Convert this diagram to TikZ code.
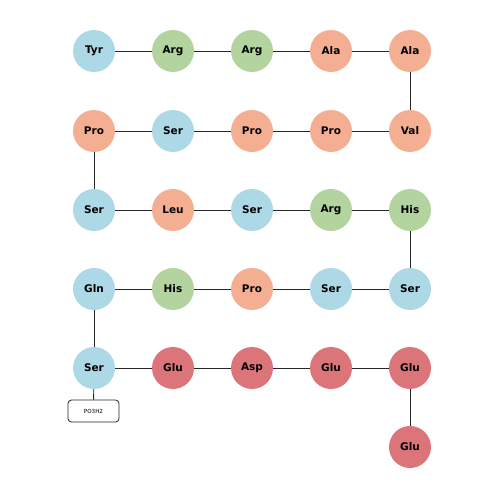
\documentclass[tikz,border=0pt]{standalone}
\usepackage{fontspec}
\setmainfont{DejaVu Sans}
\definecolor{cblue}{HTML}{ADD8E6}
\definecolor{cgreen}{HTML}{B3D49E}
\definecolor{csalmon}{HTML}{F4AF93}
\definecolor{cred}{HTML}{DB757A}
\begin{document}
\begin{tikzpicture}[x=1pt,y=-1pt,
  res/.style={circle,minimum size=42pt,inner sep=0pt,font=\fontsize{10.5}{12}\selectfont\bfseries},
  bl/.style={res,fill=cblue},
  gr/.style={res,fill=cgreen},
  sa/.style={res,fill=csalmon},
  rd/.style={res,fill=cred},
  link/.style={draw=black!85,line width=0.9pt},
  tag/.style={draw=black!85,line width=0.8pt,rounded corners=3.5pt,minimum width=51pt,minimum height=22pt,inner sep=0pt,font=\fontsize{5.6}{7}\selectfont,fill=white}]
\useasboundingbox (0,0) rectangle (500,500);
% row 1
\node[bl] (a1) at (94,51) {Tyr};
\node[gr] (a2) at (173,51) {Arg};
\node[gr] (a3) at (252,51) {Arg};
\node[sa] (a4) at (331,51) {Ala};
\node[sa] (a5) at (410,51) {Ala};
% row 2
\node[sa] (b1) at (94,131) {Pro};
\node[bl] (b2) at (173,131) {Ser};
\node[sa] (b3) at (252,131) {Pro};
\node[sa] (b4) at (331,131) {Pro};
\node[sa] (b5) at (410,131) {Val};
% row 3
\node[bl] (c1) at (94,210) {Ser};
\node[sa] (c2) at (173,210) {Leu};
\node[bl] (c3) at (252,210) {Ser};
\node[gr] (c4) at (331,210) {Arg};
\node[gr] (c5) at (410,210) {His};
% row 4
\node[bl] (d1) at (94,289) {Gln};
\node[gr] (d2) at (173,289) {His};
\node[sa] (d3) at (252,289) {Pro};
\node[bl] (d4) at (331,289) {Ser};
\node[bl] (d5) at (410,289) {Ser};
% row 5
\node[bl] (e1) at (94,368) {Ser};
\node[rd] (e2) at (173,368) {Glu};
\node[rd] (e3) at (252,368) {Asp};
\node[rd] (e4) at (331,368) {Glu};
\node[rd] (e5) at (410,368) {Glu};
% row 6
\node[rd] (f5) at (410,447) {Glu};
\node[tag] (p) at (93.5,411) {PO3H2};
% connectors
\draw[link] (a1) -- (a2);
\draw[link] (a2) -- (a3);
\draw[link] (a3) -- (a4);
\draw[link] (a4) -- (a5);
\draw[link] (a5) -- (b5);
\draw[link] (b1) -- (b2);
\draw[link] (b2) -- (b3);
\draw[link] (b3) -- (b4);
\draw[link] (b4) -- (b5);
\draw[link] (b1) -- (c1);
\draw[link] (c1) -- (c2);
\draw[link] (c2) -- (c3);
\draw[link] (c3) -- (c4);
\draw[link] (c4) -- (c5);
\draw[link] (c5) -- (d5);
\draw[link] (d1) -- (d2);
\draw[link] (d2) -- (d3);
\draw[link] (d3) -- (d4);
\draw[link] (d4) -- (d5);
\draw[link] (d1) -- (e1);
\draw[link] (e1) -- (e2);
\draw[link] (e2) -- (e3);
\draw[link] (e3) -- (e4);
\draw[link] (e4) -- (e5);
\draw[link] (e5) -- (f5);
\draw[link] (e1) -- (p);
\end{tikzpicture}
\end{document}
